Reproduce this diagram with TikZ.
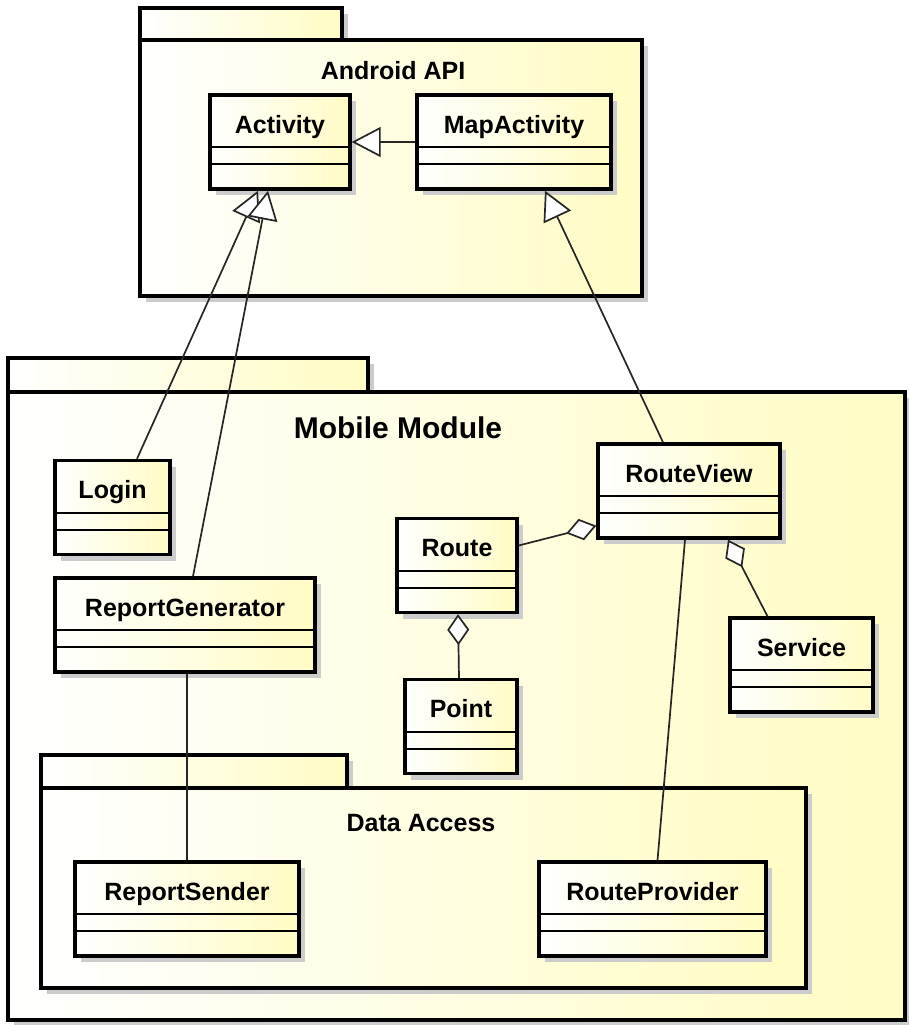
\documentclass[tikz,border=0pt]{standalone}
\usepackage{fontspec}
\setmainfont{Liberation Sans}
\usepackage{tikz}
\usetikzlibrary{arrows.meta,shadows}

\definecolor{umlyellow}{RGB}{255,252,196}

\begin{document}
\begin{tikzpicture}[x=1pt,y=-1pt,
  shade/.style={left color=white,right color=umlyellow,
    drop shadow={shadow xshift=6pt,shadow yshift=-6pt,fill=black!20,opacity=1}},
  pkg/.style={shade,draw,line width=3.4pt,inner sep=0pt},
  pkgname/.style={anchor=base,inner sep=0pt,font=\bfseries\fontsize{25}{30}\selectfont},
  cls/.style={shade,draw,line width=3.4pt,inner sep=0pt,minimum height=94pt,
    text height=18pt,text depth=36pt,font=\bfseries\fontsize{25}{30}\selectfont,
    path picture={
      \draw[line width=2pt] ([yshift=-52pt]path picture bounding box.north west)
        -- ([yshift=-52pt]path picture bounding box.north east);
      \draw[line width=2pt] ([yshift=-69pt]path picture bounding box.north west)
        -- ([yshift=-69pt]path picture bounding box.north east);}},
  rel/.style={line width=1.7pt,draw=black!85},
  gen/.style={rel,-{Triangle[length=29pt,width=30pt,fill=white]}},
  aggr/.style={rel,{Diamond[length=31pt,width=22pt,fill=white]}-}]
\useasboundingbox (0,0) rectangle (909,1025);

% packages
\node[pkg,minimum width=360pt,minimum height=34pt] (mobtab) at (188,375) {};
\node[pkg,minimum width=897pt,minimum height=628pt] (mob) at (456.5,706) {};
\node[pkgname] (mobname) at (398,438) {\fontsize{30}{36}\selectfont Mobile Module};

\node[pkg,minimum width=306pt,minimum height=33pt] (datatab) at (194,771.5) {};
\node[pkg,minimum width=765pt,minimum height=200pt] (data) at (423.5,888) {};
\node[pkgname] (dataname) at (421,831) {Data Access};

\node[pkg,minimum width=202pt,minimum height=32pt] (apitab) at (241,24) {};
\node[pkg,minimum width=502pt,minimum height=256pt] (api) at (391,168) {};
\node[pkgname] (apiname) at (393,79) {Android API};

% classes
\node[cls,minimum width=140pt] (act) at (280,142) {Activity};
\node[cls,minimum width=194pt] (map) at (514,142) {MapActivity};
\node[cls,minimum width=115pt] (login) at (112.5,507.5) {Login};
\node[cls,minimum width=260pt] (rgen) at (185,625) {ReportGenerator};
\node[cls,minimum width=182pt] (rview) at (689,491) {RouteView};
\node[cls,minimum width=120pt] (route) at (457,565.5) {Route};
\node[cls,minimum width=112pt] (point) at (461,726.5) {Point};
\node[cls,minimum width=143pt] (svc) at (801.5,665) {Service};
\node[cls,minimum width=224pt] (rsend) at (187,909) {ReportSender};
\node[cls,minimum width=227pt] (rprov) at (652.5,909) {RouteProvider};

% generalizations
\draw[gen] (map.west) -- (act.east);
\draw[gen] ([xshift=24.5pt]login.north) -- ([xshift=-22pt]act.south);
\draw[gen] ([xshift=8pt]rgen.north) -- ([xshift=-12pt]act.south);
\draw[gen] ([xshift=-26pt]rview.north) -- ([xshift=31pt]map.south);

% aggregations
\draw[aggr] ([yshift=14pt]rview.south west) -- ([yshift=20pt]route.east);
\draw[aggr] ([xshift=1pt]route.south) -- ([xshift=-2pt]point.north);
\draw[aggr] ([xshift=39pt]rview.south) -- ([xshift=-34pt]svc.north);

% associations
\draw[rel] ([xshift=-4pt]rview.south) -- ([xshift=5pt]rprov.north);
\draw[rel] ([xshift=2pt]rgen.south) -- (rsend.north);
\end{tikzpicture}
\end{document}
